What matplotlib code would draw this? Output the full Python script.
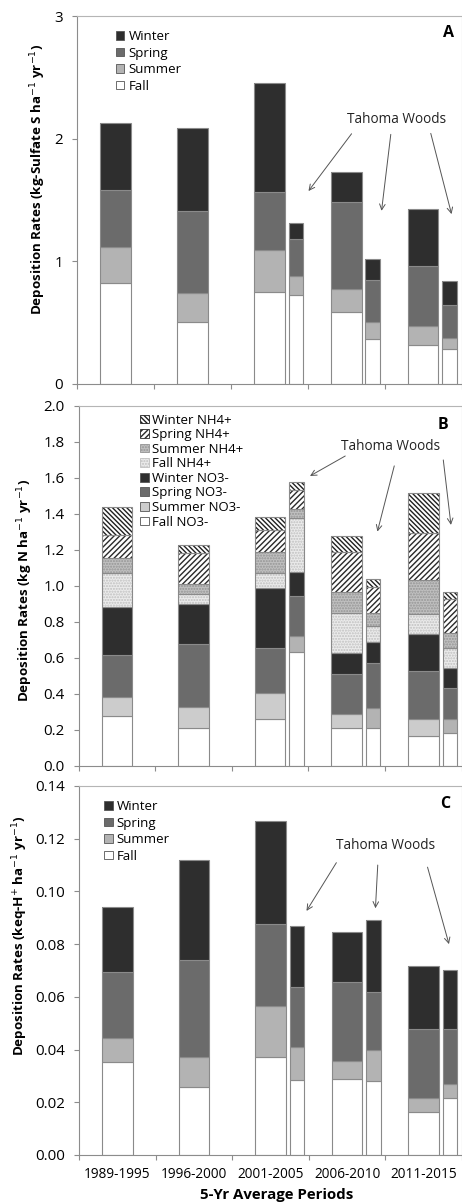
##### IMPORTS #####
import numpy as np
import matplotlib
matplotlib.use("Agg")
import matplotlib.pyplot as plt
from matplotlib.patches import Patch

plt.rcParams['font.family'] = ['Open Sans', 'DejaVu Sans']
plt.rcParams['hatch.linewidth'] = 1.0

#####################################################################################
# DATA SECTION
#####################################################################################

periods = ["1989-1995", "1996-2000", "2001-2005", "2006-2010", "2011-2015"]
# Tahoma Woods only has the last three periods
tahoma_idx = [2, 3, 4]

# Panel A - sulfate (kg S/ha/yr), seasonal parts
so4_fall = [0.826, 0.508, 0.753, 0.590, 0.315]
so4_summer = [0.294, 0.234, 0.342, 0.187, 0.161]
so4_spring = [0.464, 0.668, 0.470, 0.707, 0.486]
so4_winter = [0.544, 0.677, 0.889, 0.244, 0.465]
so4_tw_fall = [0.723, 0.370, 0.283]
so4_tw_summer = [0.157, 0.138, 0.092]
so4_tw_spring = [0.305, 0.340, 0.269]
so4_tw_winter = [0.125, 0.171, 0.196]

# Panel B - inorganic N (kg N/ha/yr)
no3_fall = [0.274, 0.208, 0.258, 0.208, 0.163]
no3_summer = [0.110, 0.116, 0.146, 0.081, 0.098]
no3_spring = [0.231, 0.353, 0.248, 0.221, 0.267]
no3_winter = [0.269, 0.222, 0.338, 0.119, 0.204]
nh4_fall = [0.186, 0.054, 0.080, 0.218, 0.112]
nh4_summer = [0.087, 0.059, 0.120, 0.117, 0.189]
nh4_spring = [0.126, 0.169, 0.120, 0.226, 0.259]
nh4_winter = [0.154, 0.046, 0.075, 0.089, 0.226]
no3_tw_fall = [0.634, 0.208, 0.180]
no3_tw_summer = [0.087, 0.115, 0.078]
no3_tw_spring = [0.222, 0.246, 0.176]
no3_tw_winter = [0.132, 0.121, 0.111]
nh4_tw_fall = [0.300, 0.087, 0.111]
nh4_tw_summer = [0.050, 0.074, 0.084]
nh4_tw_spring = [0.108, 0.145, 0.185]
nh4_tw_winter = [0.044, 0.041, 0.043]

# Panel C - acidity (keq H+/ha/yr)
h_fall = [0.0354, 0.0257, 0.0373, 0.0287, 0.0162]
h_summer = [0.0091, 0.0116, 0.0194, 0.0071, 0.0056]
h_spring = [0.0251, 0.0367, 0.0309, 0.0298, 0.0260]
h_winter = [0.0244, 0.0378, 0.0392, 0.0191, 0.0238]
h_tw_fall = [0.0285, 0.0282, 0.0215]
h_tw_summer = [0.0126, 0.0118, 0.0056]
h_tw_spring = [0.0225, 0.0217, 0.0207]
h_tw_winter = [0.0234, 0.0276, 0.0222]

#####################################################################################
# STYLE SECTION
#####################################################################################

EDGE = "#8a8a8a"
WINTER = dict(face="#2e2e2e")
SPRING = dict(face="#6b6b6b")
SUMMER = dict(face="#b3b3b3")
FALL = dict(face="white")
SUMMER_N = dict(face="#cccccc")
FALL_NH4 = dict(face="#ebebeb", hatch="......", hc="#c0c0c0")
SUMMER_NH4 = dict(face="#c0c0c0", hatch="......", hc="#959595")
SPRING_NH4 = dict(face="white", hatch="//////", hc="#2a2a2a")
WINTER_NH4 = dict(face="white", hatch="\\" * 7, hc="#202020")

MAIN_W = 0.40
TW_W = 0.19
TW_OFF = 0.345


def stacked(ax, x, layers, styles, width):
    bottom = np.zeros(len(x))
    for vals, st in zip(layers, styles):
        vals = np.asarray(vals)
        ax.bar(x, vals, width, bottom=bottom, color=st['face'],
               hatch=st.get('hatch'), edgecolor=st.get('hc', EDGE), linewidth=0)
        ax.bar(x, vals, width, bottom=bottom, fill=False,
               edgecolor=EDGE, linewidth=0.8)
        bottom += vals


def setup_axes(ax, ymax, yticks, fmt, show_labels):
    ax.set_xlim(-0.5, 4.5)
    ax.set_ylim(0, ymax)
    ax.set_xticks(np.arange(-0.5, 5, 1))
    ax.set_xticklabels([])
    ax.set_xticks(np.arange(5), minor=True)
    if show_labels:
        ax.set_xticklabels(periods, minor=True, fontsize=9.8)
    ax.tick_params(axis='x', which='minor', length=0, pad=9)
    ax.tick_params(axis='x', which='major', direction='out', length=3.5,
                   color="#8c8c8c", width=0.8)
    ax.set_yticks(yticks)
    ax.set_yticklabels([fmt % v for v in yticks], fontsize=10.8)
    ax.tick_params(axis='y', direction='out', length=3.5, pad=6.5,
                   color="#8c8c8c", width=0.8)
    for s in ['left', 'bottom']:
        ax.spines[s].set_color("#8c8c8c")
        ax.spines[s].set_linewidth(0.8)
    for s in ['top', 'right']:
        ax.spines[s].set_color("#b5b5b5")
        ax.spines[s].set_linewidth(0.8)


def tahoma(ax, text_xy, arrows):
    ax.text(text_xy[0], text_xy[1], "Tahoma Woods", fontsize=9.8,
            ha='center', va='center', color="#222222")
    for tail, head in arrows:
        ax.annotate("", xy=head, xytext=tail,
                    arrowprops=dict(arrowstyle='->', color="#555555", lw=0.7,
                                    shrinkA=0, shrinkB=0))


def season_legend(ax, styles, labels, x, y, spacing):
    handles = [Patch(facecolor=st['face'], edgecolor=st.get('hc', "#555555"),
                     hatch=st.get('hatch'), linewidth=0.6) for st in styles]
    ax.legend(handles, labels, loc='upper left', bbox_to_anchor=(x, y),
              frameon=False, fontsize=9.5, handlelength=0.65, handleheight=0.65,
              handletextpad=0.3, labelspacing=spacing, borderpad=0,
              borderaxespad=0)

#####################################################################################
# PLOT SECTION
#####################################################################################

fig = plt.figure(figsize=(4.62, 12.04), dpi=100)
axA = fig.add_axes([0.1667, 0.6811, 0.8323, 0.3056])
axB = fig.add_axes([0.1703, 0.3640, 0.8290, 0.2988])
axC = fig.add_axes([0.1710, 0.0407, 0.8290, 0.3065])

x = np.arange(len(periods))
xt = np.array(tahoma_idx) + TW_OFF
seasons4 = [FALL, SUMMER, SPRING, WINTER]

# Panel A
stacked(axA, x, [so4_fall, so4_summer, so4_spring, so4_winter], seasons4, MAIN_W)
stacked(axA, xt, [so4_tw_fall, so4_tw_summer, so4_tw_spring, so4_tw_winter],
        seasons4, TW_W)
setup_axes(axA, 3, [0, 1, 2, 3], "%d", False)
axA.set_ylabel("Deposition Rates (kg-Sulfate S ha$^{-1}$ yr$^{-1}$)",
               fontsize=9.6, fontweight='bold', va='center')
axA.yaxis.set_label_coords(-0.101, 0.557)
season_legend(axA, seasons4[::-1], ["Winter", "Spring", "Summer", "Fall"],
              0.101, 0.962, 0.27)
axA.text(0.966, 0.953, "A", transform=axA.transAxes, fontsize=11.5,
         fontweight='bold', ha='center', va='center')
tahoma(axA, (3.66, 2.157), [((3.07, 2.04), (2.51, 1.573)),
                            ((3.58, 2.035), (3.46, 1.412)),
                            ((4.10, 2.043), (4.37, 1.385))])

# Panel B
n_styles = [FALL, SUMMER_N, SPRING, WINTER, FALL_NH4, SUMMER_NH4, SPRING_NH4, WINTER_NH4]
n_styles_tw = [FALL, SUMMER, SPRING, WINTER, FALL_NH4, SUMMER_NH4, SPRING_NH4, WINTER_NH4]
stacked(axB, x, [no3_fall, no3_summer, no3_spring, no3_winter,
                 nh4_fall, nh4_summer, nh4_spring, nh4_winter], n_styles, MAIN_W)
stacked(axB, xt, [no3_tw_fall, no3_tw_summer, no3_tw_spring, no3_tw_winter,
                  nh4_tw_fall, nh4_tw_summer, nh4_tw_spring, nh4_tw_winter],
        n_styles_tw, TW_W)
setup_axes(axB, 2.0, np.round(np.arange(0, 2.01, 0.2), 1), "%.1f", False)
axB.set_ylabel("Deposition Rates (kg N ha$^{-1}$ yr$^{-1}$)",
               fontsize=9.6, fontweight='bold', va='center')
axB.yaxis.set_label_coords(-0.140, 0.488)
season_legend(axB, n_styles[::-1],
              ["Winter NH4+", "Spring NH4+", "Summer NH4+", "Fall NH4+",
               "Winter NO3-", "Spring NO3-", "Summer NO3-", "Fall NO3-"],
              0.160, 0.979, 0.12)
axB.text(0.950, 0.947, "B", transform=axB.transAxes, fontsize=11.5,
         fontweight='bold', ha='center', va='center')
tahoma(axB, (3.575, 1.774), [((2.98, 1.722), (2.52, 1.611)),
                             ((3.62, 1.667), (3.40, 1.302)),
                             ((4.26, 1.700), (4.36, 1.339))])

# Panel C
stacked(axC, x, [h_fall, h_summer, h_spring, h_winter], seasons4, MAIN_W)
stacked(axC, xt, [h_tw_fall, h_tw_summer, h_tw_spring, h_tw_winter],
        seasons4, TW_W)
setup_axes(axC, 0.14, np.round(np.arange(0, 0.141, 0.02), 2), "%.2f", True)
axC.set_ylabel("Deposition Rates (keq-H$^{+}$ ha$^{-1}$ yr$^{-1}$)",
               fontsize=9.6, fontweight='bold', va='center')
axC.yaxis.set_label_coords(-0.154, 0.593)
axC.set_xlabel("5-Yr Average Periods", fontsize=10.8, fontweight='bold',
               va='center')
axC.xaxis.set_label_coords(0.517, -0.108)
season_legend(axC, seasons4[::-1], ["Winter", "Spring", "Summer", "Fall"],
              0.066, 0.962, 0.27)
axC.text(0.957, 0.951, "C", transform=axC.transAxes, fontsize=11.5,
         fontweight='bold', ha='center', va='center')
tahoma(axC, (3.50, 0.1176), [((2.86, 0.1109), (2.47, 0.0926)),
                             ((3.40, 0.110), (3.37, 0.0936)),
                             ((4.05, 0.1092), (4.33, 0.0800))])

fig.savefig("out.png", dpi=100)
